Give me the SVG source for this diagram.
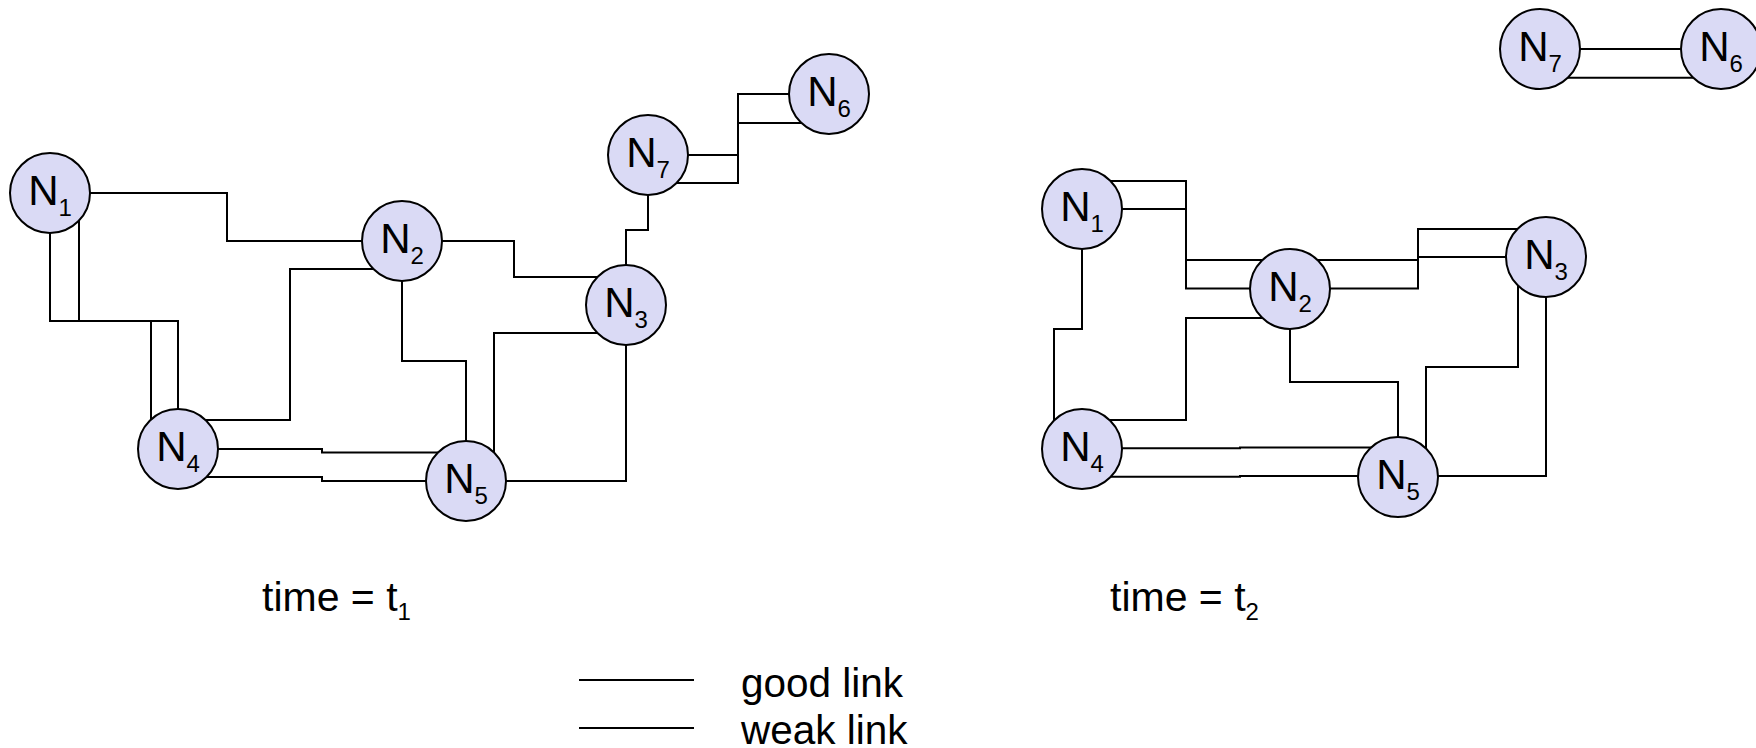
<svg xmlns="http://www.w3.org/2000/svg" width="1756" height="748" viewBox="0 0 1756 748">
<style>
.link{fill:none;stroke:#000;stroke-width:2;stroke-linejoin:miter;stroke-linecap:square}
.node circle{fill:#dadaf5;stroke:#000;stroke-width:2}
.node text{font-family:"Liberation Sans",Arial,sans-serif;font-size:42px;fill:#000;text-anchor:middle}
.node tspan{font-size:24px}
.lbl{font-family:"Liberation Sans",Arial,sans-serif;font-size:41px;fill:#000}
.lbl tspan{font-size:24px}
.leg{font-family:"Liberation Sans",Arial,sans-serif;font-size:40.5px;fill:#000}
</style>
<rect width="1756" height="748" fill="#fff"/>
<g id="connectors">
  <!-- time t1 -->
  <path class="link" d="M50,193 H227 V241 H402"/>
  <path class="link" d="M50,193 V321 H178 V449"/>
  <path class="link" d="M79,200 V321 M151,321 V440"/>
  <path class="link" d="M390,269 H290 V420 H190"/>
  <path class="link" d="M402,241 H514 V277 H626"/>
  <path class="link" d="M626,305 V230 H648 V155"/>
  <path class="link" d="M648,155 H738 V94 H829"/>
  <path class="link" d="M660,183 H738 V123 H829"/>
  <path class="link" d="M402,241 V361 H466 V481"/>
  <path class="link" d="M610,333 H494 V470"/>
  <path class="link" d="M626,305 V481 H466"/>
  <path class="link" d="M178,449 H322 V452.5 H466"/>
  <path class="link" d="M190,477 H322 V481 H466"/>
  <!-- time t2 -->
  <path class="link" d="M1082,209 H1186 V260 H1290"/>
  <path class="link" d="M1100,181 H1186 V288.5 H1290"/>
  <path class="link" d="M1290,260 H1418 V229 H1546"/>
  <path class="link" d="M1290,288.5 H1418 V257 H1546"/>
  <path class="link" d="M1082,209 V329 H1054 V440"/>
  <path class="link" d="M1275,318 H1186 V420 H1100"/>
  <path class="link" d="M1290,289 V382 H1398 V477"/>
  <path class="link" d="M1518,270 V367 H1426 V465"/>
  <path class="link" d="M1546,257 V476 H1398"/>
  <path class="link" d="M1082,448.3 H1240 V447.6 H1398"/>
  <path class="link" d="M1100,476.7 H1240 V476 H1398"/>
  <path class="link" d="M1540,49 H1721"/>
  <path class="link" d="M1555,77.7 H1705"/>
</g>
<g id="t1-N1" class="node"><circle cx="50" cy="193" r="40"/><text x="50" y="205">N<tspan dy="11">1</tspan></text></g>
<g id="t1-N2" class="node"><circle cx="402" cy="241" r="40"/><text x="402" y="253">N<tspan dy="11">2</tspan></text></g>
<g id="t1-N3" class="node"><circle cx="626" cy="305" r="40"/><text x="626" y="317">N<tspan dy="11">3</tspan></text></g>
<g id="t1-N4" class="node"><circle cx="178" cy="449" r="40"/><text x="178" y="461">N<tspan dy="11">4</tspan></text></g>
<g id="t1-N5" class="node"><circle cx="466" cy="481" r="40"/><text x="466" y="493">N<tspan dy="11">5</tspan></text></g>
<g id="t1-N6" class="node"><circle cx="829" cy="94" r="40"/><text x="829" y="106">N<tspan dy="11">6</tspan></text></g>
<g id="t1-N7" class="node"><circle cx="648" cy="155" r="40"/><text x="648" y="167">N<tspan dy="11">7</tspan></text></g>
<g id="t2-N1" class="node"><circle cx="1082" cy="209" r="40"/><text x="1082" y="221">N<tspan dy="11">1</tspan></text></g>
<g id="t2-N2" class="node"><circle cx="1290" cy="289" r="40"/><text x="1290" y="301">N<tspan dy="11">2</tspan></text></g>
<g id="t2-N3" class="node"><circle cx="1546" cy="257" r="40"/><text x="1546" y="269">N<tspan dy="11">3</tspan></text></g>
<g id="t2-N4" class="node"><circle cx="1082" cy="449" r="40"/><text x="1082" y="461">N<tspan dy="11">4</tspan></text></g>
<g id="t2-N5" class="node"><circle cx="1398" cy="477" r="40"/><text x="1398" y="489">N<tspan dy="11">5</tspan></text></g>
<g id="t2-N7" class="node"><circle cx="1540" cy="49" r="40"/><text x="1540" y="61">N<tspan dy="11">7</tspan></text></g>
<g id="t2-N6" class="node"><circle cx="1721" cy="49" r="40"/><text x="1721" y="61">N<tspan dy="11">6</tspan></text></g>
<g id="labels">
  <text class="lbl" x="262" y="611">time = t<tspan dy="8.5">1</tspan></text>
  <text class="lbl" x="1110" y="611">time = t<tspan dy="8.5">2</tspan></text>
</g>
<g id="legend">
  <line class="link" x1="580" y1="680" x2="693" y2="680"/>
  <line class="link" x1="580" y1="728" x2="693" y2="728"/>
  <text class="leg" x="741" y="697">good link</text>
  <text class="leg" x="741" y="744">weak link</text>
</g>
</svg>
